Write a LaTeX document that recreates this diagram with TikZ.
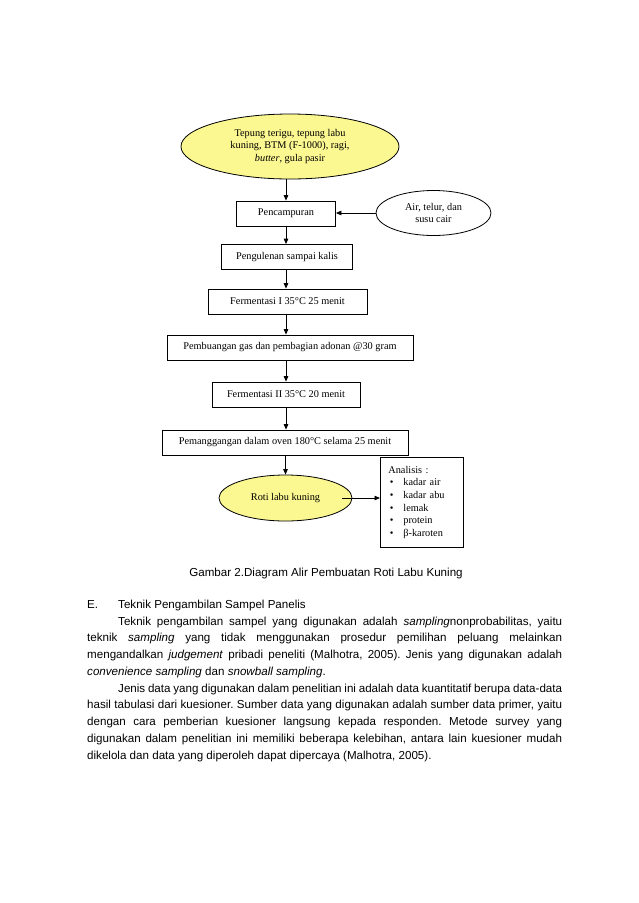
\documentclass[tikz,border=0pt]{standalone}
\usepackage{fontspec}
\setmainfont{Liberation Serif}
\newfontfamily\bodyfont{Liberation Sans}
\usetikzlibrary{arrows.meta,shapes.geometric}
\definecolor{pale}{RGB}{252,248,145}
\frenchspacing
\newcommand\diagfont{\fontsize{10.3}{12.5}\selectfont}
\newcommand\txtfont{\bodyfont\fontsize{11.6}{14}\selectfont\frenchspacing}
\begin{document}
\begin{tikzpicture}[x=1pt,y=-1pt,
  stepbox/.style={draw,line width=0.8pt,minimum height=25pt,inner sep=0pt,font=\diagfont},
  oval/.style={draw,ellipse,line width=0.8pt,inner sep=0pt,font=\diagfont,align=center},
  arr/.style={line width=0.8pt,-{Triangle[length=5.5pt,width=4.5pt]}},
  txt/.style={anchor=base west,inner sep=0pt,font=\txtfont}]
\useasboundingbox (0,0) rectangle (638,903);
\fill[white] (0,0) rectangle (638,903);

% diagram
\node[oval,fill=pale,minimum width=218pt,minimum height=65pt] (top) at (290,146.5)
  {Tepung terigu, tepung labu\\kuning, BTM (F-1000), ragi,\\\textit{butter}, gula pasir};
\node[stepbox,minimum width=99pt] (pc) at (286,213.5) {Pencampuran};
\node[oval,fill=white,minimum width=115pt,minimum height=45pt] (air) at (433.5,213)
  {Air, telur, dan\\susu cair};
\node[stepbox,minimum width=131pt] (pg) at (287,257) {Pengulenan sampai kalis};
\node[stepbox,minimum width=159pt] (f1) at (287.5,301.5) {Fermentasi I 35°C 25 menit};
\node[stepbox,minimum width=246pt] (pb) at (290,347.5) {Pembuangan gas dan pembagian adonan @30 gram};
\node[stepbox,minimum width=148pt] (f2) at (286,394.5) {Fermentasi II 35°C 20 menit};
\node[stepbox,minimum width=246pt] (pm) at (285,442.5) {Pemanggangan dalam oven 180°C selama 25 menit};
\node[oval,fill=pale,minimum width=133pt,minimum height=46pt] (roti) at (285.5,498) {Roti labu kuning};
\node[draw,line width=0.8pt,anchor=north west,minimum width=83pt,minimum height=90pt,
  inner xsep=8pt,inner ysep=0pt,align=left,text width=67pt,
  font=\fontsize{10.3}{12.7}\selectfont] (an) at (380,457)
  {Analisis :\\
   \makebox[15pt][l]{\hspace{1.5pt}\textbullet}kadar air\\
   \makebox[15pt][l]{\hspace{1.5pt}\textbullet}kadar abu\\
   \makebox[15pt][l]{\hspace{1.5pt}\textbullet}lemak\\
   \makebox[15pt][l]{\hspace{1.5pt}\textbullet}protein\\
   \makebox[15pt][l]{\hspace{1.5pt}\textbullet}β-karoten};

\draw[arr] (pc.north |- top.south) -- (pc.north);
\draw[arr] (air.west) -- (air.west -| pc.east);
\draw[arr] (pc.south) -- (pc.south |- pg.north);
\draw[arr] (pg.south -| pc) -- (pc |- f1.north);
\draw[arr] (f1.south -| pc) -- (pc |- pb.north);
\draw[arr] (pb.south -| pc) -- (pc |- f2.north);
\draw[arr] (f2.south -| pc) -- (pc |- pm.north);
\draw[arr] (pm.south -| roti) -- (roti.north);
\draw[arr,shorten <=-10pt] (roti.east) -- (roti.east -| an.west);

% caption and body text
\node[anchor=base,inner sep=0pt,font=\txtfont] (cap) at (326,576) {Gambar 2.Diagram Alir Pembuatan Roti Labu Kuning};
\node[txt] (e) at (87,608) {E.};
\node[txt] (eh) at (118,608) {Teknik Pengambilan Sampel Panelis};
\node[txt] (l1) at (118,625) {\makebox[444pt][s]{Teknik pengambilan sampel yang digunakan adalah \textit{sampling}nonprobabilitas, yaitu}};
\node[txt] (l2) at (87,641.75) {\makebox[475pt][s]{teknik \textit{sampling} yang tidak menggunakan prosedur pemilihan peluang melainkan}};
\node[txt] (l3) at (87,658.5) {\makebox[475pt][s]{mengandalkan \textit{judgement} pribadi peneliti (Malhotra, 2005). Jenis yang digunakan adalah}};
\node[txt] (l4) at (87,675.25) {\textit{convenience sampling} dan \textit{snowball sampling}.};
\node[txt] (l5) at (118,692) {\makebox[444pt][s]{Jenis data yang digunakan dalam penelitian ini adalah data kuantitatif berupa data-data}};
\node[txt] (l6) at (87,708.75) {\makebox[475pt][s]{hasil tabulasi dari kuesioner. Sumber data yang digunakan adalah sumber data primer, yaitu}};
\node[txt] (l7) at (87,725.5) {\makebox[475pt][s]{dengan cara pemberian kuesioner langsung kepada responden. Metode survey yang}};
\node[txt] (l8) at (87,742.25) {\makebox[475pt][s]{digunakan dalam penelitian ini memiliki beberapa kelebihan, antara lain kuesioner mudah}};
\node[txt] (l9) at (87,759) {dikelola dan data yang diperoleh dapat dipercaya (Malhotra, 2005).};
\end{tikzpicture}
\end{document}
